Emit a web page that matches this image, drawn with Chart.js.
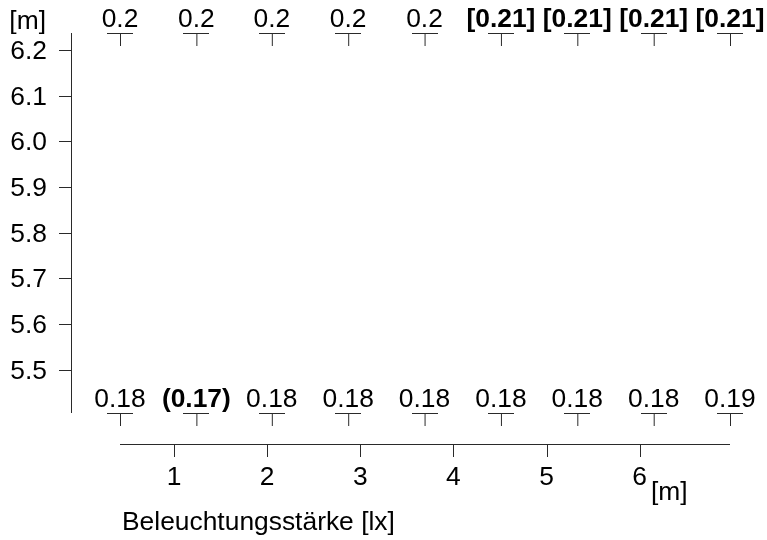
<!DOCTYPE html>
<html>
<head>
<meta charset="utf-8">
<script src="https://cdn.jsdelivr.net/npm/chart.js@4"></script>
<style>
  html, body { margin: 0; padding: 0; background: #fff; }
  #grafica { display: block; }
</style>
</head>
<body>
<canvas id="grafica" width="767" height="540"></canvas>
<script>
// grid positions [m]
var colX = [0.42, 1.24, 2.05, 2.87, 3.69, 4.51, 5.33, 6.15, 6.97];
var rowTop = 6.237;
var rowBottom = 5.405;

// illuminance values per row [lx]
var valoresArriba = [0.2, 0.2, 0.2, 0.2, 0.2, 0.21, 0.21, 0.21, 0.21];
var valoresAbajo = [0.18, 0.17, 0.18, 0.18, 0.18, 0.18, 0.18, 0.18, 0.19];
// 'max' -> [x], 'min' -> (x)
var marcasArriba = ['', '', '', '', '', 'max', 'max', 'max', 'max'];
var marcasAbajo = ['', 'min', '', '', '', '', '', '', ''];

var ticksY = [5.5, 5.6, 5.7, 5.8, 5.9, 6.0, 6.1, 6.2];
var ticksX = [1, 2, 3, 4, 5, 6];

var tituloX = 'Beleuchtungsstärke [lx]';
var unidad = '[m]';

var fuente = '"Liberation Sans", Arial, sans-serif';
var tam = '26.4px ';
var colorLinea = '#2a2a2a';

// T shaped marker
function marcaT() {
  var c = document.createElement('canvas');
  c.width = 26; c.height = 26;
  var ctx = c.getContext('2d');
  ctx.strokeStyle = colorLinea;
  ctx.lineWidth = 1;
  ctx.beginPath();
  ctx.moveTo(0, 13.5); ctx.lineTo(26, 13.5);
  ctx.moveTo(13.5, 13.5); ctx.lineTo(13.5, 26);
  ctx.stroke();
  return c;
}

function puntos(y, valores, marcas) {
  return colX.map(function (x, i) {
    return { x: x, y: y, v: valores[i], m: marcas[i] };
  });
}

function texto(v, m) {
  var s = String(v);
  if (m === 'max') return '[' + s + ']';
  if (m === 'min') return '(' + s + ')';
  return s;
}

var ejes = {
  id: 'ejes',
  afterDraw: function (chart) {
    var ctx = chart.ctx;
    var sx = chart.scales.x, sy = chart.scales.y;
    var area = chart.chartArea;
    ctx.save();
    ctx.strokeStyle = colorLinea;
    ctx.lineWidth = 1;
    ctx.fillStyle = '#000';
    ctx.font = tam + fuente;

    // y axis, offset to the left
    var ax = 71.5;
    ctx.beginPath();
    ctx.moveTo(ax, area.top); ctx.lineTo(ax, area.bottom);
    ticksY.forEach(function (v) {
      var py = Math.round(sy.getPixelForValue(v)) + 0.5;
      ctx.moveTo(59, py); ctx.lineTo(ax, py);
    });
    ctx.stroke();
    ctx.textAlign = 'right';
    ctx.textBaseline = 'alphabetic';
    ticksY.forEach(function (v) {
      ctx.fillText(v.toFixed(1), 47, sy.getPixelForValue(v) + 9);
    });
    ctx.fillText(unidad, 46, 29);

    // x axis, offset below
    var ay = 444.5;
    ctx.beginPath();
    ctx.moveTo(area.left, ay); ctx.lineTo(area.right, ay);
    ticksX.forEach(function (v) {
      var px = Math.round(sx.getPixelForValue(v)) + 0.5;
      ctx.moveTo(px, ay); ctx.lineTo(px, 457);
    });
    ctx.stroke();
    ctx.textAlign = 'center';
    ticksX.forEach(function (v) {
      ctx.fillText(String(v), sx.getPixelForValue(v), 485);
    });
    ctx.textAlign = 'left';
    ctx.fillText(unidad, 651, 500);
    ctx.fillText(tituloX, 122, 530);

    // values above each grid point
    ctx.textAlign = 'center';
    chart.data.datasets.forEach(function (ds, d) {
      chart.getDatasetMeta(d).data.forEach(function (el, i) {
        var p = ds.data[i];
        ctx.font = (p.m ? 'bold ' : '') + tam + fuente;
        ctx.fillText(texto(p.v, p.m), el.x, el.y - 6);
      });
    });
    ctx.restore();
  }
};

var config = {
  type: 'scatter',
  data: {
    datasets: [
      { label: 'oben', data: puntos(rowTop, valoresArriba, marcasArriba) },
      { label: 'unten', data: puntos(rowBottom, valoresAbajo, marcasAbajo) }
    ]
  },
  options: {
    responsive: false,
    animation: false,
    layout: { padding: { left: 120, top: 33, right: 37, bottom: 127 } },
    elements: {
      point: { pointStyle: marcaT(), radius: 13, hoverRadius: 13 }
    },
    datasets: { scatter: { clip: false } },
    scales: {
      x: { type: 'linear', min: 0.42, max: 6.97, display: false },
      y: { type: 'linear', min: rowBottom, max: rowTop, display: false }
    },
    plugins: { legend: { display: false }, tooltip: { enabled: false } }
  },
  plugins: [ejes]
};

var myChart = new Chart(document.getElementById('grafica'), config);
</script>
</body>
</html>
